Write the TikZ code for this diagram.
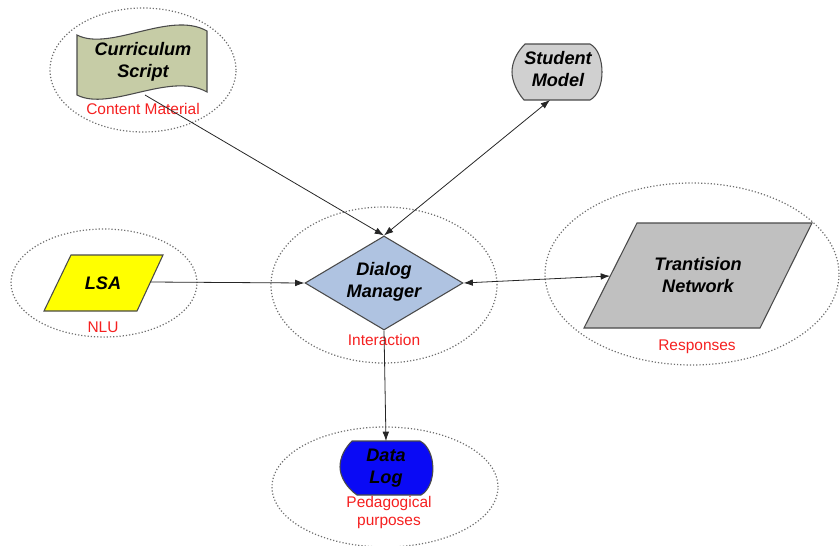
\documentclass[tikz,border=0pt]{standalone}
\usepackage{fontspec}
\setmainfont{Liberation Sans}
\usetikzlibrary{shapes.geometric,arrows.meta}
\definecolor{scriptfill}{HTML}{C6CCA6}
\definecolor{modelfill}{HTML}{D0D0D0}
\definecolor{dlgfill}{HTML}{AFC3E1}
\definecolor{netfill}{HTML}{C0C0C0}
\definecolor{logfill}{HTML}{0A0AF5}
\definecolor{lsafill}{HTML}{FFFF00}
\definecolor{tagred}{HTML}{F52020}
\definecolor{rim}{HTML}{4A4A4A}
\definecolor{dotgray}{HTML}{6E6E6E}
\tikzset{
  group/.style={ellipse, draw=dotgray, line width=0.9pt, dash pattern=on 0.9pt off 1.5pt, inner sep=0pt},
  part/.style={draw=rim, line width=0.8pt},
  caption/.style={font=\fontsize{13.6}{16.5}\selectfont\bfseries\itshape, align=center, inner sep=0pt},
  tag/.style={text=tagred, font=\fontsize{11.6}{13.5}\selectfont, align=center, inner sep=0pt},
  link/.style={line width=0.6pt, draw=black!85},
  tip/.style={-{Latex[length=7pt,width=5pt]}},
  tips/.style={{Latex[length=7pt,width=5pt]}-{Latex[length=7pt,width=5pt]}}
}
\begin{document}
\begin{tikzpicture}[x=0.75pt,y=-0.75pt]
\useasboundingbox (0,0) rectangle (840,546);

% dotted groups
\node[group, minimum width=139.5pt, minimum height=93pt] (scriptGrp) at (143,70) {};
\node[group, minimum width=139.5pt, minimum height=81pt] (lsaGrp) at (104,283) {};
\node[group, minimum width=169.5pt, minimum height=117pt] (dlgGrp) at (384,285) {};
\node[group, minimum width=220.5pt, minimum height=136.5pt] (netGrp) at (692,274) {};
\node[group, minimum width=169.5pt, minimum height=90pt] (logGrp) at (385,487) {};

% curriculum script (wavy flag)
\draw[part, fill=scriptfill] (77,35) .. controls (110,52) and (170,10) .. (207,31)
  -- (207,92) .. controls (170,71) and (110,112) .. (77,95) -- cycle;
\node[caption] (script) at (143,62) {Curriculum\\Script};
\coordinate (scriptOut) at (145,95);

% student model (display shape)
\draw[part, fill=modelfill] (525,44) -- (590,44) .. controls (606,52) and (606,92) .. (590,100)
  -- (524,100) .. controls (517,92) and (512,81) .. (512,72)
  .. controls (512,62) and (517,52) .. (525,44) -- cycle;
\node[caption] (model) at (558,69) {Student\\Model};
\coordinate (modelOut) at (550,100);

% LSA (parallelogram)
\draw[part, fill=lsafill] (71,255) -- (163,255) -- (137,311) -- (44,311) -- cycle;
\node[caption] (lsa) at (103,283) {LSA};
\coordinate (lsaOut) at (150,282);

% dialog manager (diamond)
\node[diamond, part, fill=dlgfill, minimum width=118.5pt, minimum height=70.5pt, inner sep=0pt] (dlg) at (384,283) {};
\node[caption] (dlgText) at (384,282) {Dialog\\Manager};

% transition network (parallelogram)
\draw[part, fill=netfill] (637,223) -- (812,223) -- (760,328) -- (584,328) -- cycle;
\node[caption] (net) at (698,275) {Trantision\\Network};
\coordinate (netIn) at (610,276);

% data log (display shape)
\draw[part, fill=logfill] (352,441) -- (420,441) .. controls (437,450) and (437,486) .. (421,495)
  -- (357,495) .. controls (347,488) and (340,477) .. (340,467)
  .. controls (340,457) and (345,448) .. (352,441) -- cycle;
\node[caption] (log) at (386,468) {Data\\Log};
\coordinate (logIn) at (386,441);

% red tags
\node[tag] (tagScript) at (143,109) {Content Material};
\node[tag] (tagLsa) at (103,327) {NLU};
\node[tag] (tagDlg) at (384,340) {Interaction};
\node[tag] (tagNet) at (697,347) {Responses};
\node[tag] (tagLog) at (389,512) {Pedagogical\\purposes};

% connectors
\draw[link, tip] (scriptOut) -- (dlg.north);
\draw[link, tips] (modelOut) -- (dlg.north);
\draw[link, tip] (lsaOut) -- (dlg.west);
\draw[link, tips] (dlg.east) -- (netIn);
\draw[link, tip] (dlg.south) -- (logIn);
\end{tikzpicture}
\end{document}
